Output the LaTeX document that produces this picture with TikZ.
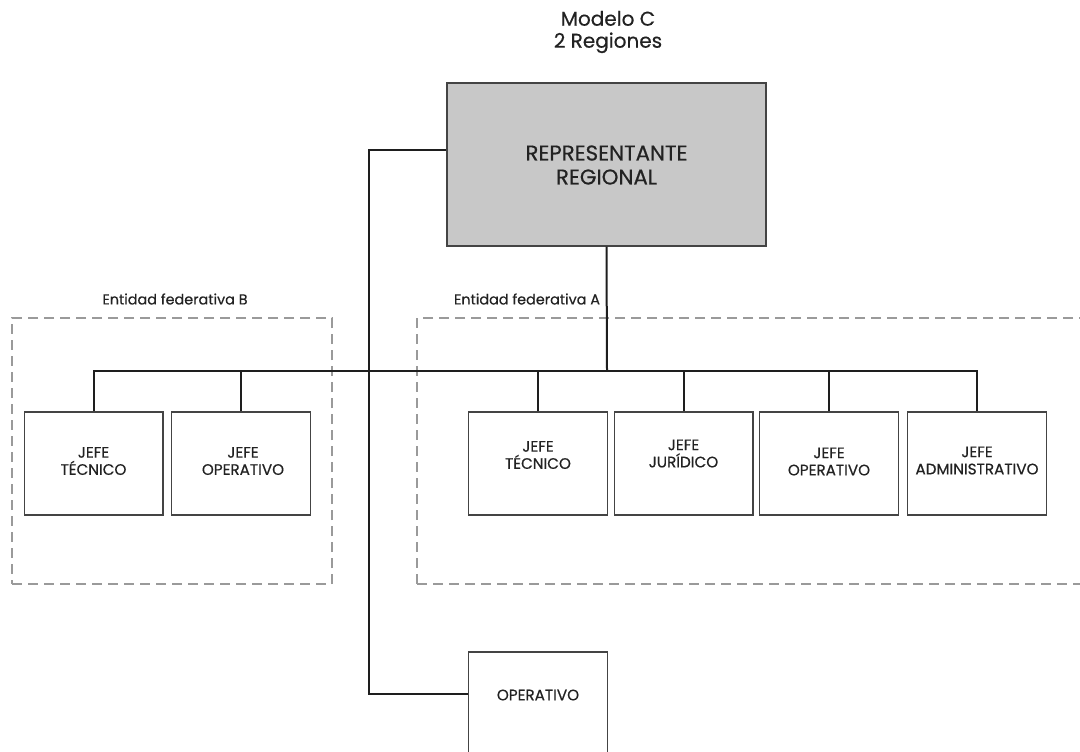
\documentclass[tikz,border=0pt]{standalone}
\usepackage{fontspec}
\setmainfont{Poppins}[FakeBold=0.5]
\definecolor{boxc}{HTML}{444444}
\definecolor{linec}{HTML}{1E1E1E}
\definecolor{dashc}{HTML}{9A9A9A}
\definecolor{repfill}{HTML}{C8C8C8}
\definecolor{txt}{HTML}{222222}
\begin{document}
\begin{tikzpicture}[x=0.75pt,y=-0.75pt,
  box/.style={draw=boxc,line width=1pt,fill=white,minimum width=104pt,minimum height=77.25pt,inner sep=0pt},
  lbl/.style={font=\fontsize{11.4}{12.9}\selectfont,align=center,text=txt,inner sep=0pt},
  conn/.style={draw=linec,line width=1.5pt},
  region/.style={draw=dashc,line width=1.5pt,dash pattern=on 7.5pt off 4.5pt,inner sep=0pt}]
\useasboundingbox (0,0) rectangle (1080,751);
\clip (0,0) rectangle (1080,751);
% title
\node[font=\fontsize{15}{16.5}\selectfont,align=center,text=txt] (title) at (608,32) {Modelo C\\2 Regiones};
% regions
\node[region,minimum width=240pt,minimum height=199.5pt] (regB) at (172,451) {};
\node[region,minimum width=512.25pt,minimum height=199.5pt] (regA) at (758.5,451) {};
\node[font=\fontsize{10.8}{12}\selectfont,text=txt] (labB) at (175,299) {Entidad federativa B};
\node[font=\fontsize{10.8}{12}\selectfont,text=txt] (labA) at (527,299) {Entidad federativa A};
% representative
\node[draw=boxc,line width=1pt,fill=repfill,minimum width=239.25pt,minimum height=122.25pt,inner sep=0pt] (rep) at (606.5,164.5) {};
\node[font=\fontsize{16}{18}\selectfont,align=center,text=txt] (reptxt) at (606.5,165) {REPRESENTANTE\\REGIONAL};
% boxes
\node[box] (b1) at (93.5,463.5) {};
\node[box] (b2) at (241,463.5) {};
\node[box] (a1) at (538,463.5) {};
\node[box] (a2) at (683.5,463.5) {};
\node[box] (a3) at (829,463.5) {};
\node[box] (a4) at (977,463.5) {};
\node[box,minimum height=90pt] (op) at (538,712) {};
% connectors
\coordinate (bus) at (607,371);
\coordinate (k1) at (369,150);
\coordinate (k2) at (369,694);
\draw[conn] (rep.south) -- (bus);
\draw[conn] (b1.north) |- (bus);
\draw[conn] (b2.north) |- (bus);
\draw[conn] (a1.north) |- (bus);
\draw[conn] (a2.north) |- (bus);
\draw[conn] (a3.north) |- (bus);
\draw[conn] (a4.north) |- (bus);
\draw[conn] (k1 -| rep.west) -- (k1) -- (k2) -- (k2 -| op.west);
% labels
\node[lbl] (t1) at (93.5,461) {JEFE\\TÉCNICO};
\node[lbl] (t2) at (243,461) {JEFE\\OPERATIVO};
\node[lbl] (t3) at (538,455) {JEFE\\TÉCNICO};
\node[lbl] (t4) at (683.5,453.5) {JEFE\\JURÍDICO};
\node[lbl] (t5) at (829,461.5) {JEFE\\OPERATIVO};
\node[lbl] (t6) at (977,460.5) {JEFE\\ADMINISTRATIVO};
\node[lbl] (t7) at (538,695) {OPERATIVO};
\end{tikzpicture}
\end{document}
